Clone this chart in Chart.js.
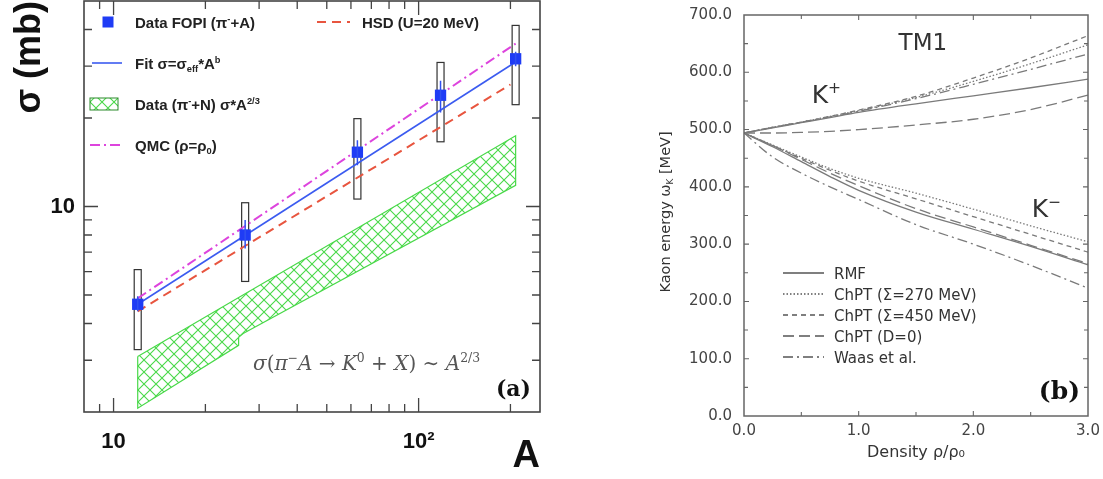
<!DOCTYPE html>
<html>
<head>
<meta charset="utf-8">
<script src="https://cdn.jsdelivr.net/npm/chart.js@4.4.1/dist/chart.umd.min.js"></script>
<style>
  html, body { margin: 0; padding: 0; background: #fff; }
  #wrap { position: relative; width: 1103px; height: 479px; overflow: hidden; }
  #panelA { position: absolute; left: 0; top: 0; }
  #panelB { position: absolute; left: 560px; top: 0; }
</style>
</head>
<body>
<div id="wrap">
  <canvas id="panelA" width="560" height="479"></canvas>
  <canvas id="panelB" width="543" height="479"></canvas>
</div>
<script>
// ---------- panel (a): sigma(pi- A -> K0 X) vs A ----------
const targetA = [12, 27, 63, 118, 208];
const sigmaFOPI = [4.65, 8.0, 15.3, 23.9, 31.8];
const statLow = [4.4, 7.2, 13.8, 20.9, 30.0];
const statHigh = [4.95, 9.0, 16.8, 26.8, 33.6];
const sysLow = [3.26, 5.56, 10.6, 16.6, 22.2];
const sysHigh = [6.1, 10.3, 19.9, 30.9, 41.3];
const fitA = [12, 208];
const fitSigma = [4.65, 31.0];
const qmcA = [12, 208];
const qmcSigma = [4.87, 35.8];
const hsdA = [12, 200];
const hsdSigma = [4.4, 26.0];
// outline of the (pi- + N) * A^(2/3) band, closed
const bandA = [12, 208, 208, 26.6, 25.7, 25.7, 12, 12];
const bandSigma = [3.09, 17.4, 11.8, 3.70, 3.59, 3.37, 2.06, 3.09];
const xTicksA = [9, 10, 20, 30, 40, 50, 60, 70, 80, 90, 100, 200];
const yTicksA = [3, 4, 5, 6, 7, 8, 9, 10, 20, 30, 40];

// ---------- panel (b): kaon energy vs density (TM1) ----------
const density = [0, 0.25, 0.5, 0.75, 1.0, 1.5, 2.0, 2.5, 3.0];
const kpRMF     = [494, 503, 512, 521, 530, 545, 559, 573, 588];
const kpChPT270 = [494, 504, 513, 523, 533, 556, 584, 615, 648];
const kpChPT450 = [494, 504, 513, 523, 534, 558, 590, 625, 664];
const kpD0      = [494, 494, 495, 497, 500, 508, 518, 535, 560];
const kpWaas    = [494, 504, 513, 522, 532, 554, 579, 605, 632];
const kmRMF     = [494, 470, 444, 418, 394, 356, 326, 296, 264];
const kmChPT270 = [494, 473, 452, 432, 415, 389, 361, 332, 304];
const kmChPT450 = [494, 472, 450, 429, 410, 379, 348, 317, 286];
const kmD0      = [494, 472, 448, 424, 402, 362, 330, 298, 266];
const kmWaas    = [494, 452, 424, 400, 378, 334, 300, 263, 223];
const modelNames = ['RMF', 'ChPT (Σ=270 MeV)', 'ChPT (Σ=450 MeV)', 'ChPT (D=0)', 'Waas et al.'];
const modelDash = [[], [1.5, 2], [5, 4], [11, 5], [10, 4, 2, 4]];

const pts = (xs, ys) => xs.map((x, i) => ({x: x, y: ys[i]}));

function drawRich(ctx, x, y, parts, base, measureOnly) {
  // parts: [text, mode('', 'sup', 'sub'), fontStyle]
  let cx = x;
  for (const [t, mode, style] of parts) {
    const size = mode ? base.size * 0.62 : base.size;
    const dy = mode === 'sup' ? -base.size * 0.4 : mode === 'sub' ? base.size * 0.22 : 0;
    ctx.font = [style || '', base.weight || 'normal', size + 'px', base.family].join(' ').trim();
    if (!measureOnly) ctx.fillText(t, cx, y + dy);
    cx += ctx.measureText(t).width;
  }
  return cx - x;
}

function makeHatch() {
  const c = document.createElement('canvas');
  c.width = 12; c.height = 12;
  const g = c.getContext('2d');
  g.fillStyle = '#ffffff';
  g.fillRect(0, 0, 12, 12);
  g.strokeStyle = '#49d949';
  g.lineWidth = 1.1;
  g.beginPath();
  g.moveTo(0, 0); g.lineTo(12, 12);
  g.moveTo(12, 0); g.lineTo(0, 12);
  g.stroke();
  return g.createPattern(c, 'repeat');
}
const hatch = makeHatch();

// keep the plot frame exactly where the forced axis sizes put it
function fixY(width) {
  return s => { s.width = width; s.paddingTop = 0; s.paddingBottom = 0; };
}
function fixX(height) {
  return s => { s.height = height; s.paddingLeft = 0; s.paddingRight = 0; };
}
const noGrid = {display: false, drawTicks: false, tickLength: 0};

// frame with inward ticks on all four sides
const frameTicks = {
  id: 'frameTicks',
  afterDatasetsDraw(chart, args, o) {
    const {ctx, chartArea: a, scales: {x, y}} = chart;
    ctx.save();
    ctx.strokeStyle = o.color;
    ctx.lineWidth = o.tickWidth;
    ctx.beginPath();
    for (const t of x.ticks) {
      const px = x.getPixelForValue(t.value);
      if (px <= a.left + 1 || px >= a.right - 1) continue;
      const len = o.isMajorX(t.value) ? o.major : o.minor;
      ctx.moveTo(px, a.bottom); ctx.lineTo(px, a.bottom - len);
      ctx.moveTo(px, a.top); ctx.lineTo(px, a.top + len);
    }
    for (const t of y.ticks) {
      const py = y.getPixelForValue(t.value);
      if (py <= a.top + 1 || py >= a.bottom - 1) continue;
      const len = o.isMajorY(t.value) ? o.major : o.minor;
      ctx.moveTo(a.left, py); ctx.lineTo(a.left + len, py);
      ctx.moveTo(a.right, py); ctx.lineTo(a.right - len, py);
    }
    ctx.stroke();
    ctx.lineWidth = o.width;
    ctx.strokeRect(a.left, a.top, a.width, a.height);
    ctx.restore();
  }
};

const isDecade = v => Math.abs(Math.log10(v) - Math.round(Math.log10(v))) < 1e-9;

const panelADecor = {
  id: 'panelADecor',
  beforeDatasetsDraw(chart) {
    const {ctx, scales: {x, y}} = chart;
    ctx.save();
    ctx.strokeStyle = '#333';
    ctx.lineWidth = 1.2;
    targetA.forEach((A, i) => {
      const px = x.getPixelForValue(A);
      const top = y.getPixelForValue(sysHigh[i]);
      const bot = y.getPixelForValue(sysLow[i]);
      ctx.strokeRect(px - 3.5, top, 7, bot - top);
    });
    ctx.restore();
  },
  afterDatasetsDraw(chart) {
    const {ctx, scales: {x, y}} = chart;
    ctx.save();
    // statistical errors
    ctx.strokeStyle = '#3050f0';
    ctx.lineWidth = 1.5;
    ctx.beginPath();
    targetA.forEach((A, i) => {
      const px = x.getPixelForValue(A);
      ctx.moveTo(px, y.getPixelForValue(statHigh[i]));
      ctx.lineTo(px, y.getPixelForValue(statLow[i]));
    });
    ctx.stroke();

    // legend
    const lf = {size: 15, weight: 'bold', family: '"Liberation Sans", Arial, sans-serif'};
    ctx.fillStyle = '#1f3cf5';
    ctx.fillRect(102.5, 16.5, 11, 11);
    ctx.lineWidth = 1.6;
    ctx.strokeStyle = '#3b5bf0';
    ctx.beginPath(); ctx.moveTo(92, 63); ctx.lineTo(122, 63); ctx.stroke();
    ctx.fillStyle = hatch;
    ctx.fillRect(90, 98, 28, 12);
    ctx.strokeStyle = '#2a8a2a'; ctx.lineWidth = 1;
    ctx.strokeRect(90, 98, 28, 12);
    ctx.strokeStyle = '#dd44dd'; ctx.lineWidth = 2;
    ctx.setLineDash([10, 4, 2, 4]);
    ctx.beginPath(); ctx.moveTo(90, 145); ctx.lineTo(120, 145); ctx.stroke();
    ctx.strokeStyle = '#e8553f';
    ctx.setLineDash([9, 6]);
    ctx.beginPath(); ctx.moveTo(317, 22); ctx.lineTo(350, 22); ctx.stroke();
    ctx.setLineDash([]);

    ctx.fillStyle = '#222';
    ctx.textBaseline = 'alphabetic';
    ctx.textAlign = 'left';
    drawRich(ctx, 135, 27.5, [['Data FOPI (π'], ['-', 'sup'], ['+A)']], lf);
    drawRich(ctx, 135, 68.5, [['Fit σ=σ'], ['eff', 'sub'], ['*A'], ['b', 'sup']], lf);
    drawRich(ctx, 135, 109.5, [['Data (π'], ['-', 'sup'], ['+N) σ*A'], ['2/3', 'sup']], lf);
    drawRich(ctx, 135, 150.5, [['QMC (ρ=ρ'], ['0', 'sub'], [')']], lf);
    drawRich(ctx, 362, 27.5, [['HSD (U=20 MeV)']], lf);

    // formula
    const ff = {size: 20, family: '"DejaVu Serif", "Liberation Serif", serif'};
    ctx.fillStyle = '#555';
    drawRich(ctx, 253, 370, [
      ['σ', '', 'italic'], ['('], ['π', '', 'italic'], ['−', 'sup'],
      ['A', '', 'italic'], [' → '], ['K', '', 'italic'], ['0', 'sup'],
      [' + '], ['X', '', 'italic'], [') ∼ '], ['A', '', 'italic'], ['2/3', 'sup']
    ], ff);

    ctx.fillStyle = '#111';
    ctx.font = 'bold 22px "DejaVu Serif", serif';
    ctx.textAlign = 'right';
    ctx.fillText('(a)', 531, 396);
    ctx.restore();
  }
};

new Chart(document.getElementById('panelA'), {
  type: 'scatter',
  data: {
    datasets: [
      {
        label: 'Data FOPI (π-+A)',
        data: pts(targetA, sigmaFOPI),
        pointStyle: 'rect',
        pointRadius: 8,
        pointBackgroundColor: '#1f3cf5',
        pointBorderColor: '#1f3cf5',
        pointBorderWidth: 0,
        showLine: false
      },
      {
        label: 'Fit',
        data: pts(fitA, fitSigma),
        showLine: true, borderColor: '#3b5bf0', borderWidth: 1.6, pointRadius: 0
      },
      {
        label: 'QMC',
        data: pts(qmcA, qmcSigma),
        showLine: true, borderColor: '#dd44dd', borderWidth: 2, borderDash: [10, 4, 2, 4], pointRadius: 0
      },
      {
        label: 'HSD (U=20 MeV)',
        data: pts(hsdA, hsdSigma),
        showLine: true, borderColor: '#e8553f', borderWidth: 2, borderDash: [9, 6], pointRadius: 0
      },
      {
        label: 'Data (π-+N) σ*A^2/3',
        data: pts(bandA, bandSigma),
        showLine: true, fill: 'shape', backgroundColor: hatch,
        borderColor: '#49d949', borderWidth: 1.2, pointRadius: 0, tension: 0
      }
    ]
  },
  options: {
    responsive: false,
    animation: false,
    layout: {autoPadding: false, padding: {left: 0, right: 20, top: 1, bottom: 0}},
    plugins: {
      legend: {display: false},
      tooltip: {enabled: false},
      frameTicks: {color: '#444', width: 1.6, tickWidth: 1.3, major: 14, minor: 8, isMajorX: isDecade, isMajorY: isDecade}
    },
    scales: {
      x: {
        type: 'logarithmic', min: 8, max: 250,
        grid: noGrid, border: {display: false},
        afterBuildTicks: s => { s.ticks = xTicksA.map(v => ({value: v})); },
        afterFit: fixX(67),
        ticks: {
          autoSkip: false, maxRotation: 0, padding: 17, color: '#111',
          font: {family: '"Liberation Sans", Arial, sans-serif', size: 22, weight: 'bold'},
          callback: v => v === 10 ? '10' : v === 100 ? '10²' : ''
        },
        title: {
          display: true, text: 'A', align: 'end', color: '#111', padding: {top: 0, bottom: 0},
          font: {family: '"Liberation Sans", Arial, sans-serif', size: 38, weight: 'bold'}
        }
      },
      y: {
        type: 'logarithmic', min: 2, max: 50,
        grid: noGrid, border: {display: false},
        afterBuildTicks: s => { s.ticks = yTicksA.map(v => ({value: v})); },
        afterFit: fixY(84),
        ticks: {
          autoSkip: false, padding: 9, color: '#111',
          font: {family: '"Liberation Sans", Arial, sans-serif', size: 22, weight: 'bold'},
          callback: v => v === 10 ? '10' : ''
        },
        title: {
          display: true, text: 'σ (mb)', align: 'end', color: '#111', padding: {top: 8, bottom: 0},
          font: {family: '"Liberation Sans", Arial, sans-serif', size: 36, weight: 'bold'}
        }
      }
    }
  },
  plugins: [frameTicks, panelADecor]
});

// ---------- panel (b) ----------
const panelBDecor = {
  id: 'panelBDecor',
  afterDatasetsDraw(chart) {
    const {ctx, chartArea: a, scales: {x, y}} = chart;
    const sf = {size: 15, family: '"DejaVu Sans", sans-serif'};
    ctx.save();
    ctx.textBaseline = 'alphabetic';
    ctx.textAlign = 'left';
    // legend
    modelNames.forEach((name, i) => {
      const cy = 273 + i * 21;
      ctx.strokeStyle = '#555';
      ctx.lineWidth = 1.3;
      ctx.setLineDash(modelDash[i]);
      ctx.beginPath(); ctx.moveTo(223, cy); ctx.lineTo(264, cy); ctx.stroke();
      ctx.setLineDash([]);
      ctx.fillStyle = '#333';
      drawRich(ctx, 274, cy + 5.5, [[name]], sf);
    });
    // labels inside the frame
    ctx.fillStyle = '#333';
    ctx.font = '23px "DejaVu Sans", sans-serif';
    ctx.textAlign = 'center';
    ctx.fillText('TM1', x.getPixelForValue(1.56), y.getPixelForValue(639));
    ctx.textAlign = 'left';
    const kf = {size: 25, family: '"DejaVu Sans", sans-serif'};
    drawRich(ctx, x.getPixelForValue(0.59), y.getPixelForValue(546), [['K'], ['+', 'sup']], kf);
    drawRich(ctx, x.getPixelForValue(2.51), y.getPixelForValue(347), [['K'], ['−', 'sup']], kf);

    ctx.fillStyle = '#111';
    ctx.font = 'bold 25px "DejaVu Serif", serif';
    ctx.textAlign = 'right';
    ctx.fillText('(b)', a.right - 8, 399);

    // y axis title with subscript
    const tf = {size: 14.5, family: '"DejaVu Sans", sans-serif'};
    const parts = [['Kaon energy ω'], ['K', 'sub'], [' [MeV]']];
    ctx.textAlign = 'left';
    ctx.fillStyle = '#333';
    const w = drawRich(ctx, 0, 0, parts, tf, true);
    ctx.translate(105, 212);
    ctx.rotate(-Math.PI / 2);
    drawRich(ctx, -w / 2, 5, parts, tf);
    ctx.restore();
  }
};

const curveSets = [
  [kpRMF, kmRMF], [kpChPT270, kmChPT270], [kpChPT450, kmChPT450], [kpD0, kmD0], [kpWaas, kmWaas]
];
const datasetsB = [];
curveSets.forEach((pair, i) => {
  pair.forEach((vals, j) => {
    datasetsB.push({
      label: modelNames[i] + (j ? ' K-' : ' K+'),
      data: pts(density, vals),
      showLine: true,
      borderColor: '#7a7a7a',
      borderWidth: 1.3,
      borderDash: modelDash[i],
      cubicInterpolationMode: 'monotone',
      pointRadius: 0
    });
  });
});

new Chart(document.getElementById('panelB'), {
  type: 'scatter',
  data: {datasets: datasetsB},
  options: {
    responsive: false,
    animation: false,
    layout: {autoPadding: false, padding: {left: 0, right: 15, top: 15, bottom: 0}},
    plugins: {
      legend: {display: false},
      tooltip: {enabled: false},
      frameTicks: {
        color: '#666', width: 1.5, tickWidth: 1.1, major: 5, minor: 4,
        isMajorX: v => Math.abs(v - Math.round(v)) < 1e-9,
        isMajorY: v => v % 100 === 0
      }
    },
    scales: {
      x: {
        type: 'linear', min: 0, max: 3,
        grid: noGrid, border: {display: false},
        afterFit: fixX(63),
        ticks: {
          stepSize: 0.5, autoSkip: false, maxRotation: 0, padding: 6, color: '#444',
          font: {family: '"DejaVu Sans", sans-serif', size: 15},
          callback: v => Math.abs(v - Math.round(v)) < 1e-9 ? v.toFixed(1) : ''
        },
        title: {
          display: true, text: 'Density ρ/ρ₀', color: '#333', padding: {top: 0, bottom: 17},
          font: {family: '"DejaVu Sans", sans-serif', size: 16}
        }
      },
      y: {
        type: 'linear', min: 0, max: 700,
        grid: noGrid, border: {display: false},
        afterFit: fixY(184),
        ticks: {
          stepSize: 50, autoSkip: false, padding: 12, color: '#444',
          font: {family: '"DejaVu Sans", sans-serif', size: 15},
          callback: v => v % 100 === 0 ? v.toFixed(1) : ''
        }
      }
    }
  },
  plugins: [frameTicks, panelBDecor]
});
</script>
</body>
</html>
